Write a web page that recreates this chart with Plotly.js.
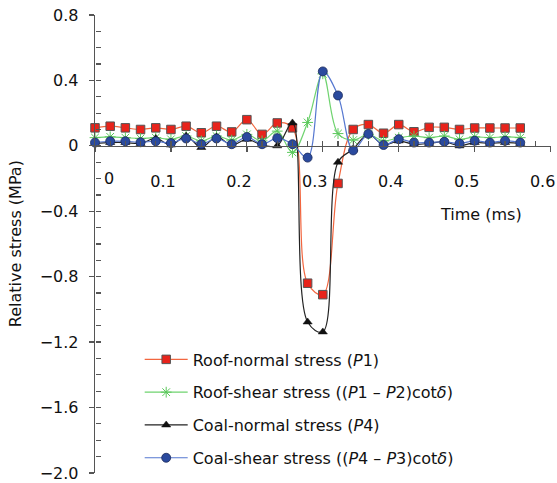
<!DOCTYPE html>
<html>
<head>
<meta charset="utf-8">
<script src="https://cdn.plot.ly/plotly-3.0.1.min.js"></script>
<style>html,body{margin:0;padding:0;background:#fff;}#chart{width:557px;height:483px;}</style>
</head>
<body>
<div id="chart"></div>
<script>
const time = [0,0.02,0.04,0.06,0.08,0.10,0.12,0.14,0.16,0.18,0.20,0.22,0.24,0.26,0.28,0.30,0.32,0.34,0.36,0.38,0.40,0.42,0.44,0.46,0.48,0.50,0.52,0.54,0.56];
const roofNormal = [0.11,0.12,0.11,0.10,0.11,0.10,0.12,0.08,0.12,0.085,0.16,0.07,0.14,0.11,-0.84,-0.91,-0.23,0.10,0.13,0.077,0.13,0.086,0.113,0.113,0.10,0.109,0.109,0.109,0.109];
const roofShear = [0.05,0.055,0.05,0.045,0.05,0.04,0.06,0.03,0.06,0.035,0.07,0.03,0.09,-0.04,0.143,0.44,0.075,0.035,0.07,0.03,0.05,0.06,0.05,0.06,0.04,0.055,0.05,0.055,0.05];
const coalNormal = [0.015,0.02,0.02,0.015,0.045,0.005,0.06,-0.01,0.055,0.005,0.04,0.005,0.0,0.14,-1.077,-1.138,-0.10,-0.02,0.07,0.005,0.03,0.01,0.015,0.025,0.0,0.02,0.015,0.02,0.015];
const coalShear = [0.02,0.028,0.028,0.022,0.028,0.017,0.045,0.01,0.045,0.01,0.054,0.01,0.047,0.01,-0.072,0.455,0.308,-0.028,0.073,0.005,0.041,0.02,0.02,0.025,0.014,0.031,0.02,0.031,0.02];
const seriesNames = [
  'Roof-normal stress (<i>P</i>1)',
  'Roof-shear stress ((<i>P</i>1 – <i>P</i>2)cot<i>δ</i>)',
  'Coal-normal stress (<i>P</i>4)',
  'Coal-shear stress ((<i>P</i>4 – <i>P</i>3)cot<i>δ</i>)'
];
const yTickVals = [0.8,0.4,0,-0.4,-0.8,-1.2,-1.6,-2.0];
const yTickText = ['0.8','0.4','0','−0.4','−0.8','−1.2','−1.6','−2.0'];
const xTickVals = [0,0.1,0.2,0.3,0.4,0.5,0.6];
const xTickText = ['0','0.1','0.2','0.3','0.4','0.5','0.6'];
const xTitle = 'Time (ms)';
const yTitle = 'Relative stress (MPa)';

const font = 'DejaVu Sans, Verdana, sans-serif';
function tr(y, name, lineColor, marker, grp){
  return {x: time, y: y, name: name, type:'scatter', mode:'lines+markers',
    legendgroup: grp,
    line:{color: lineColor, width:1.2, shape:'spline', smoothing:1},
    marker: marker, cliponaxis:false};
}
const data = [
  tr(roofNormal, seriesNames[0], '#f2663f', {symbol:'square', size:8.5, color:'#e8231b', line:{color:'#555', width:1}}, 'a'),
  tr(roofShear, seriesNames[1], '#6fd36f', {symbol:'asterisk-open', size:9, color:'#5cc85c', line:{color:'#5cc85c', width:1}}, 'b'),
  tr(coalNormal, seriesNames[2], '#222222', {symbol:'triangle-up', size:8, color:'#111', line:{color:'#111', width:0.5}}, 'c'),
  tr(coalShear, seriesNames[3], '#5577d0', {symbol:'circle', size:9, color:'#2a4a9e', line:{color:'#1a2a5a', width:0.8}}, 'd'),
  {x:[null], y:[null], xaxis:'x2', yaxis:'y2', showlegend:false, hoverinfo:'skip', type:'scatter', mode:'lines'}
];
const pos0 = 2.0/2.8;
const xr = [0, 0.6005];
const yr = [-2.0005, 0.8];
const layout = {
  width:557, height:483,
  margin:{l:95, r:6, t:15, b:10},
  paper_bgcolor:'#fff', plot_bgcolor:'rgba(0,0,0,0)',
  font:{family:font, size:16, color:'#111'},
  showlegend:true,
  legend:{x:0.098, y:0.285, xanchor:'left', yanchor:'top', bgcolor:'rgba(0,0,0,0)',
    font:{family:font, size:16, color:'#111'}, tracegroupgap:9, itemwidth:43},
  xaxis:{range:xr, anchor:'free', position:pos0, showline:true, linecolor:'#555', linewidth:1.3,
    showgrid:false, zeroline:false, ticks:'outside', ticklen:5, tickwidth:1.3, tickcolor:'#555',
    tickvals:xTickVals, ticktext:['', ...xTickText.slice(1)], ticklabelstandoff:16, ticklabelshift:-8,
    ticklabeloverflow:'allow', tickfont:{family:font, size:16, color:'#111'}},
  xaxis2:{range:xr, overlaying:'x', anchor:'free', position:pos0, showline:false,
    showgrid:false, zeroline:false, ticks:'inside', ticklen:5, tickwidth:1.2, tickcolor:'#555',
    dtick:0.02, tick0:0, showticklabels:false},
  yaxis:{range:yr, showline:true, linecolor:'#555', linewidth:1.3, showgrid:false, zeroline:false,
    ticks:'outside', ticklen:5, tickwidth:1.3, tickcolor:'#555', ticklabelstandoff:7,
    ticklabeloverflow:'allow',
    tickvals:yTickVals, ticktext:yTickText, tickfont:{family:font, size:16, color:'#111'}},
  yaxis2:{range:yr, overlaying:'y', anchor:'free', position:0, showline:false, showgrid:false, zeroline:false,
    ticks:'inside', ticklen:5, tickwidth:1.2, tickcolor:'#555', dtick:0.1, tick0:0, showticklabels:false},
  annotations:[
    {text:xTickText[0], xref:'x', yref:'y', x:xTickVals[0], y:0, xanchor:'center', yanchor:'middle',
      xshift:14, yshift:-33, showarrow:false, font:{family:font, size:16, color:'#111'}},
    {text:xTitle, xref:'paper', yref:'paper', x:0.846, y:0.565, xanchor:'center', yanchor:'middle',
      showarrow:false, font:{family:font, size:16, color:'#111'}},
    {text:yTitle, xref:'paper', yref:'paper', x:-0.175, y:0.5, xanchor:'center', yanchor:'middle',
      textangle:-90, showarrow:false, font:{family:font, size:16, color:'#111'}}
  ]
};
Plotly.newPlot('chart', data, layout, {displayModeBar:false, staticPlot:true});
</script>
</body>
</html>
